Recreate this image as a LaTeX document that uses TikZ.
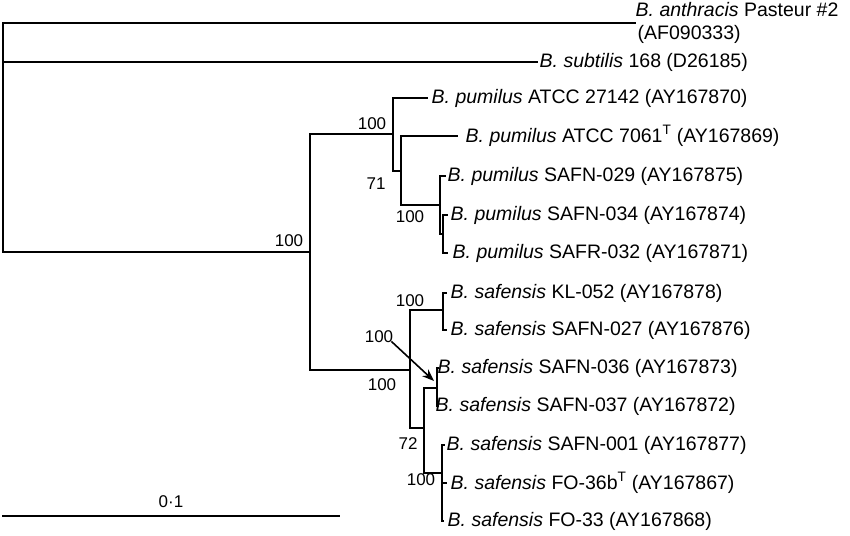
\documentclass[tikz,border=0pt]{standalone}
\usepackage{fontspec}
\setmainfont{Liberation Sans}
\usetikzlibrary{arrows.meta}
\begin{document}
\begin{tikzpicture}[x=1bp,y=-1bp,
  lab/.style={anchor=west,inner sep=2bp,font=\fontsize{19.5bp}{22bp}\selectfont},
  num/.style={inner sep=0pt,font=\fontsize{17bp}{19bp}\selectfont},
  lwA/.style={line width=1.1bp},
  lwB/.style={line width=1.6bp},
  lwC/.style={line width=2.6bp},
  line cap=rect]
\useasboundingbox (0,0) rectangle (850,536);
% internal nodes
\coordinate (R) at (3,137);
\coordinate (A) at (310,252);
\coordinate (B) at (393,134);
\coordinate (C) at (401,171);
\coordinate (D) at (440,205);
\coordinate (E) at (443,234);
\coordinate (F) at (410,370);
\coordinate (G) at (443,310);
\coordinate (H) at (424,428);
\coordinate (I) at (437,388);
\coordinate (J) at (442,473);
% leaf tips
\coordinate (tAn) at (635,23);
\coordinate (tSu) at (537,62);
\coordinate (t1) at (427,98);
\coordinate (t2) at (457,136);
\coordinate (t3) at (445,176);
\coordinate (t4) at (447,215);
\coordinate (t5) at (447,253);
\coordinate (t6) at (446,293);
\coordinate (t7) at (446,330);
\coordinate (t8) at (438.5,368);
\coordinate (t9) at (438.5,406);
\coordinate (t10) at (444,445);
\coordinate (t11) at (446,483);
\coordinate (t12) at (443,521);
% labels
\node[lab] (lAn) at (633.5,10) {\textit{B. anthracis} Pasteur \#2};
\node[lab] (lAn2) at (635.5,34) {(AF090333)};
\node[lab] (lSu) at (537.5,62) {\textit{B. subtilis} 168 (D26185)};
\node[lab] (l1) at (429.5,98) {\textit{B. pumilus} ATCC 27142 (AY167870)};
\node[lab] (l2) at (463.5,136) {\textit{B. pumilus} ATCC 7061\textsuperscript{T} (AY167869)};
\node[lab] (l3) at (445.5,176) {\textit{B. pumilus} SAFN-029 (AY167875)};
\node[lab] (l4) at (448.5,215) {\textit{B. pumilus} SAFN-034 (AY167874)};
\node[lab] (l5) at (450.5,253) {\textit{B. pumilus} SAFR-032 (AY167871)};
\node[lab] (l6) at (448.5,293) {\textit{B. safensis} KL-052 (AY167878)};
\node[lab] (l7) at (448.5,330) {\textit{B. safensis} SAFN-027 (AY167876)};
\node[lab] (l8) at (435.5,368) {\textit{B. safensis} SAFN-036 (AY167873)};
\node[lab] (l9) at (433.5,406) {\textit{B. safensis} SAFN-037 (AY167872)};
\node[lab] (l10) at (444.5,445) {\textit{B. safensis} SAFN-001 (AY167877)};
\node[lab] (l11) at (448.5,483) {\textit{B. safensis} FO-36b\textsuperscript{T} (AY167867)};
\node[lab] (l12) at (445.5,521) {\textit{B. safensis} FO-33 (AY167868)};
% bootstrap values
\node[num] (nR) at (289,241) {100};
\node[num] (nB) at (372,124) {100};
\node[num] (nC) at (376,184) {71};
\node[num] (nD) at (410,217) {100};
\node[num] (nG) at (410,301) {100};
\node[num] (nI) at (379,337) {100};
\node[num] (nF) at (382,385) {100};
\node[num] (nH) at (408,444) {72};
\node[num] (nJ) at (421,480) {100};
% root
\draw[lwB] (R) |- (A);
\draw[lwB] (R) |- (tSu);
\draw[lwB] (R) |- (3,23);
\draw[lwA] (3,23) -- (tAn);
% A
\draw[lwA] (A) |- (B);
\draw[lwA] (A) |- (F);
\draw[lwB] (310,134) -- (B);
\draw[lwB] (310,370) -- (F);
% pumilus clade
\draw[lwC] (B) |- (C);
\draw[lwC] (B) |- (393,98);
\draw[lwB] (393,98) -- (t1);
\draw[lwB] (C) |- (t2);
\draw[lwA] (C) |- (D);
\draw[lwA] (D) |- (t3);
\draw[lwA] (D) |- (E);
\draw[lwB] (E) |- (t4);
\draw[lwB] (E) |- (t5);
\draw[lwA] (443,215) -- (t4);
\draw[lwA] (443,253) -- (t5);
% safensis clade
\draw[lwC] (F) |- (G);
\draw[lwC] (F) |- (H);
\draw[lwA] (410,310) -- (G);
\draw[lwB] (410,428) -- (H);
\draw[lwB] (G) |- (t6);
\draw[lwB] (G) |- (t7);
\draw[lwB] (H) |- (I);
\draw[lwB] (I) |- (t8);
\draw[lwB] (I) |- (t9);
\draw[lwB] (H) |- (J);
\draw[lwA] (424,473) -- (J);
\draw[lwA] (J) |- (t10);
\draw[lwA] (J) |- (t11);
\draw[lwA] (J) |- (t12);
% arrow
\coordinate (aS) at (392,342);
\coordinate (aE) at (434,381);
\draw[line width=1.6bp,-{Stealth[length=12bp,width=9bp]}] (aS) -- (aE);
% scale bar
\coordinate (s1) at (3,516);
\coordinate (s2) at (339,516);
\draw[lwB] (s1) -- (s2);
\node[num] (sc) at (171,502) {0·1};
\end{tikzpicture}
\end{document}
